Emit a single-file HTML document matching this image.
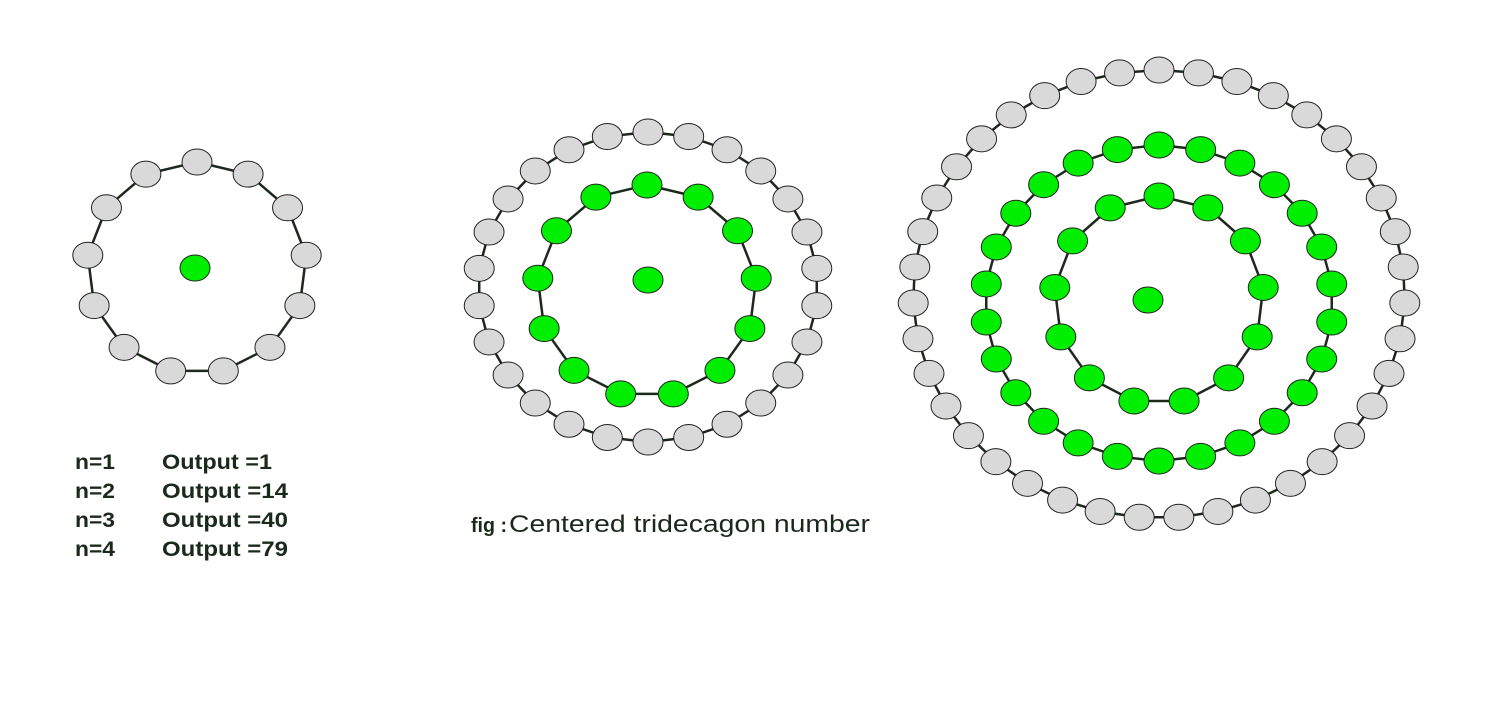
<!DOCTYPE html>
<html><head><meta charset="utf-8"><style>
html,body{margin:0;padding:0;background:#fff;}
svg{display:block;}
text{font-family:"Liberation Sans",Arial,sans-serif;fill:#1a2a1a;}
.b{font-weight:bold;font-size:21px;}
</style></head><body>
<svg id="s" width="1505" height="716" viewBox="0 0 1505 716">
<g id="rings"></g>
<g>
<text class="b" x="75" y="469" textLength="40" lengthAdjust="spacingAndGlyphs">n=1</text>
<text class="b" x="162" y="469" textLength="110" lengthAdjust="spacingAndGlyphs">Output =1</text>
<text class="b" x="75" y="498" textLength="40" lengthAdjust="spacingAndGlyphs">n=2</text>
<text class="b" x="162" y="498" textLength="126" lengthAdjust="spacingAndGlyphs">Output =14</text>
<text class="b" x="75" y="527" textLength="40" lengthAdjust="spacingAndGlyphs">n=3</text>
<text class="b" x="162" y="527" textLength="126" lengthAdjust="spacingAndGlyphs">Output =40</text>
<text class="b" x="75" y="556" textLength="40" lengthAdjust="spacingAndGlyphs">n=4</text>
<text class="b" x="162" y="556" textLength="126" lengthAdjust="spacingAndGlyphs">Output =79</text>
</g>
<text x="471" y="532" font-size="20" font-weight="bold" textLength="36" lengthAdjust="spacingAndGlyphs">fig :</text>
<text x="509" y="532" font-size="24" textLength="361" lengthAdjust="spacingAndGlyphs">Centered tridecagon number</text>
</svg>
<script>
const ringCx=[197,648,1159,1159,1159];
const ringCy=[268,287,300,303,294];
const ringRx=[110,170,105,174,246];
const ringRy=[106,155,104,158,224];
const ringCount=[13,26,13,26,39];
const ringGreen=[false,false,true,true,false];
const ringInnerGreen=[[], [[647,291,110,106]], []];
const centers=[[195,268],[648,280],[1148,300]];
const g=document.getElementById('rings');
const NS='http://www.w3.org/2000/svg';
function ring(cx,cy,rx,ry,n,green,name){
  const pts=[];
  for(let i=0;i<n;i++){const a=-Math.PI/2+2*Math.PI*i/n;pts.push([cx+rx*Math.cos(a),cy+ry*Math.sin(a)]);}
  const pl=document.createElementNS(NS,'polygon');
  pl.setAttribute('points',pts.map(p=>p.join(',')).join(' '));
  pl.setAttribute('fill','none');pl.setAttribute('stroke','#1c2a1c');pl.setAttribute('stroke-width','2.5');
  
  
  g.appendChild(pl);
  pts.forEach(p=>dot(p[0],p[1],green,name+'-dot'));
}
function dot(x,y,green,name){
  const e=document.createElementNS(NS,'ellipse');
  e.setAttribute('cx',x);e.setAttribute('cy',y);e.setAttribute('rx',15);e.setAttribute('ry',13);
  e.setAttribute('fill',green?'#00ee00':'#d9d9d9');e.setAttribute('stroke','#222');e.setAttribute('stroke-width','1');
  
  
  g.appendChild(e);
}
for(let i=0;i<ringCx.length;i++) ring(ringCx[i],ringCy[i],ringRx[i],ringRy[i],ringCount[i],ringGreen[i],'ring-'+(i+1));
ringInnerGreen[1].forEach(r=>ring(r[0],r[1],r[2],r[3],13,true,'fig2-inner-ring'));
centers.forEach(c=>dot(c[0],c[1],true,'center-dot'));
</script>
</body></html>
